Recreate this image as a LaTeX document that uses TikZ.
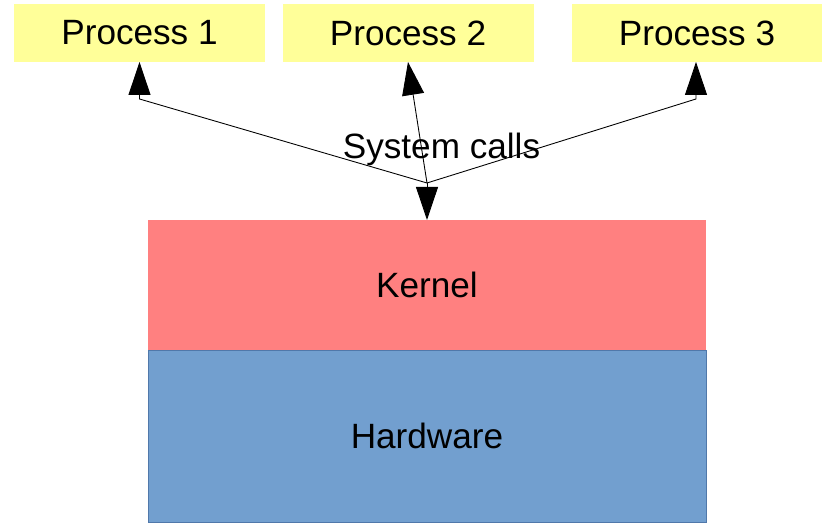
\documentclass[tikz,border=0pt]{standalone}
\usepackage{fontspec}
\setmainfont{Liberation Sans}
\usepackage{tikz}
\usetikzlibrary{arrows.meta, positioning}
\definecolor{procyellow}{RGB}{255,255,153}
\definecolor{kernelred}{RGB}{255,128,128}
\definecolor{hwblue}{RGB}{114,159,207}
\definecolor{hwborder}{RGB}{80,120,170}

\tikzset{
    procbox/.style={fill=procyellow, minimum width=5.02cm, minimum height=1.16cm, inner sep=0pt, outer sep=0pt},
    sysarrow/.style={line width=0.5pt, -{Triangle[length=0.66cm, width=0.44cm]}},
    bigtext/.style={font=\fontsize{20}{24}\selectfont}
}

\begin{document}
\begin{tikzpicture}[bigtext]
    \useasboundingbox (0,0) rectangle (16.44,10.46);

    % Processes
    \node[procbox] (proc1) at (2.79,9.80) {Process 1};
    \node[procbox] (proc2) at (8.16,9.80) {Process 2};
    \node[procbox] (proc3) at (13.94,9.80) {Process 3};

    % Kernel
    \node[fill=kernelred, minimum width=11.16cm, minimum height=2.6cm, inner sep=0pt, outer sep=0pt] (kernel) at (8.54,4.76) {Kernel};

    % Hardware
    \node[fill=hwblue, draw=hwborder, line width=0.5pt, minimum width=11.16cm, minimum height=3.44cm, inner sep=0pt, outer sep=0pt] (hardware) at (8.54,1.74) {Hardware};

    % System calls
    \coordinate (calls) at (8.54,6.80);
    \coordinate (bend1) at (2.79,8.48);
    \coordinate (bend3) at (13.92,8.48);
    \node (label) at (8.83,7.48) {System calls};

    \draw[sysarrow] (calls) -- (bend1) -- (proc1.south);
    \draw[sysarrow] (calls) -- (proc2.south);
    \draw[sysarrow] (calls) -- (bend3) -- (proc3.south -| bend3);
    \draw[sysarrow] (calls) -- (kernel.north);
\end{tikzpicture}
\end{document}
